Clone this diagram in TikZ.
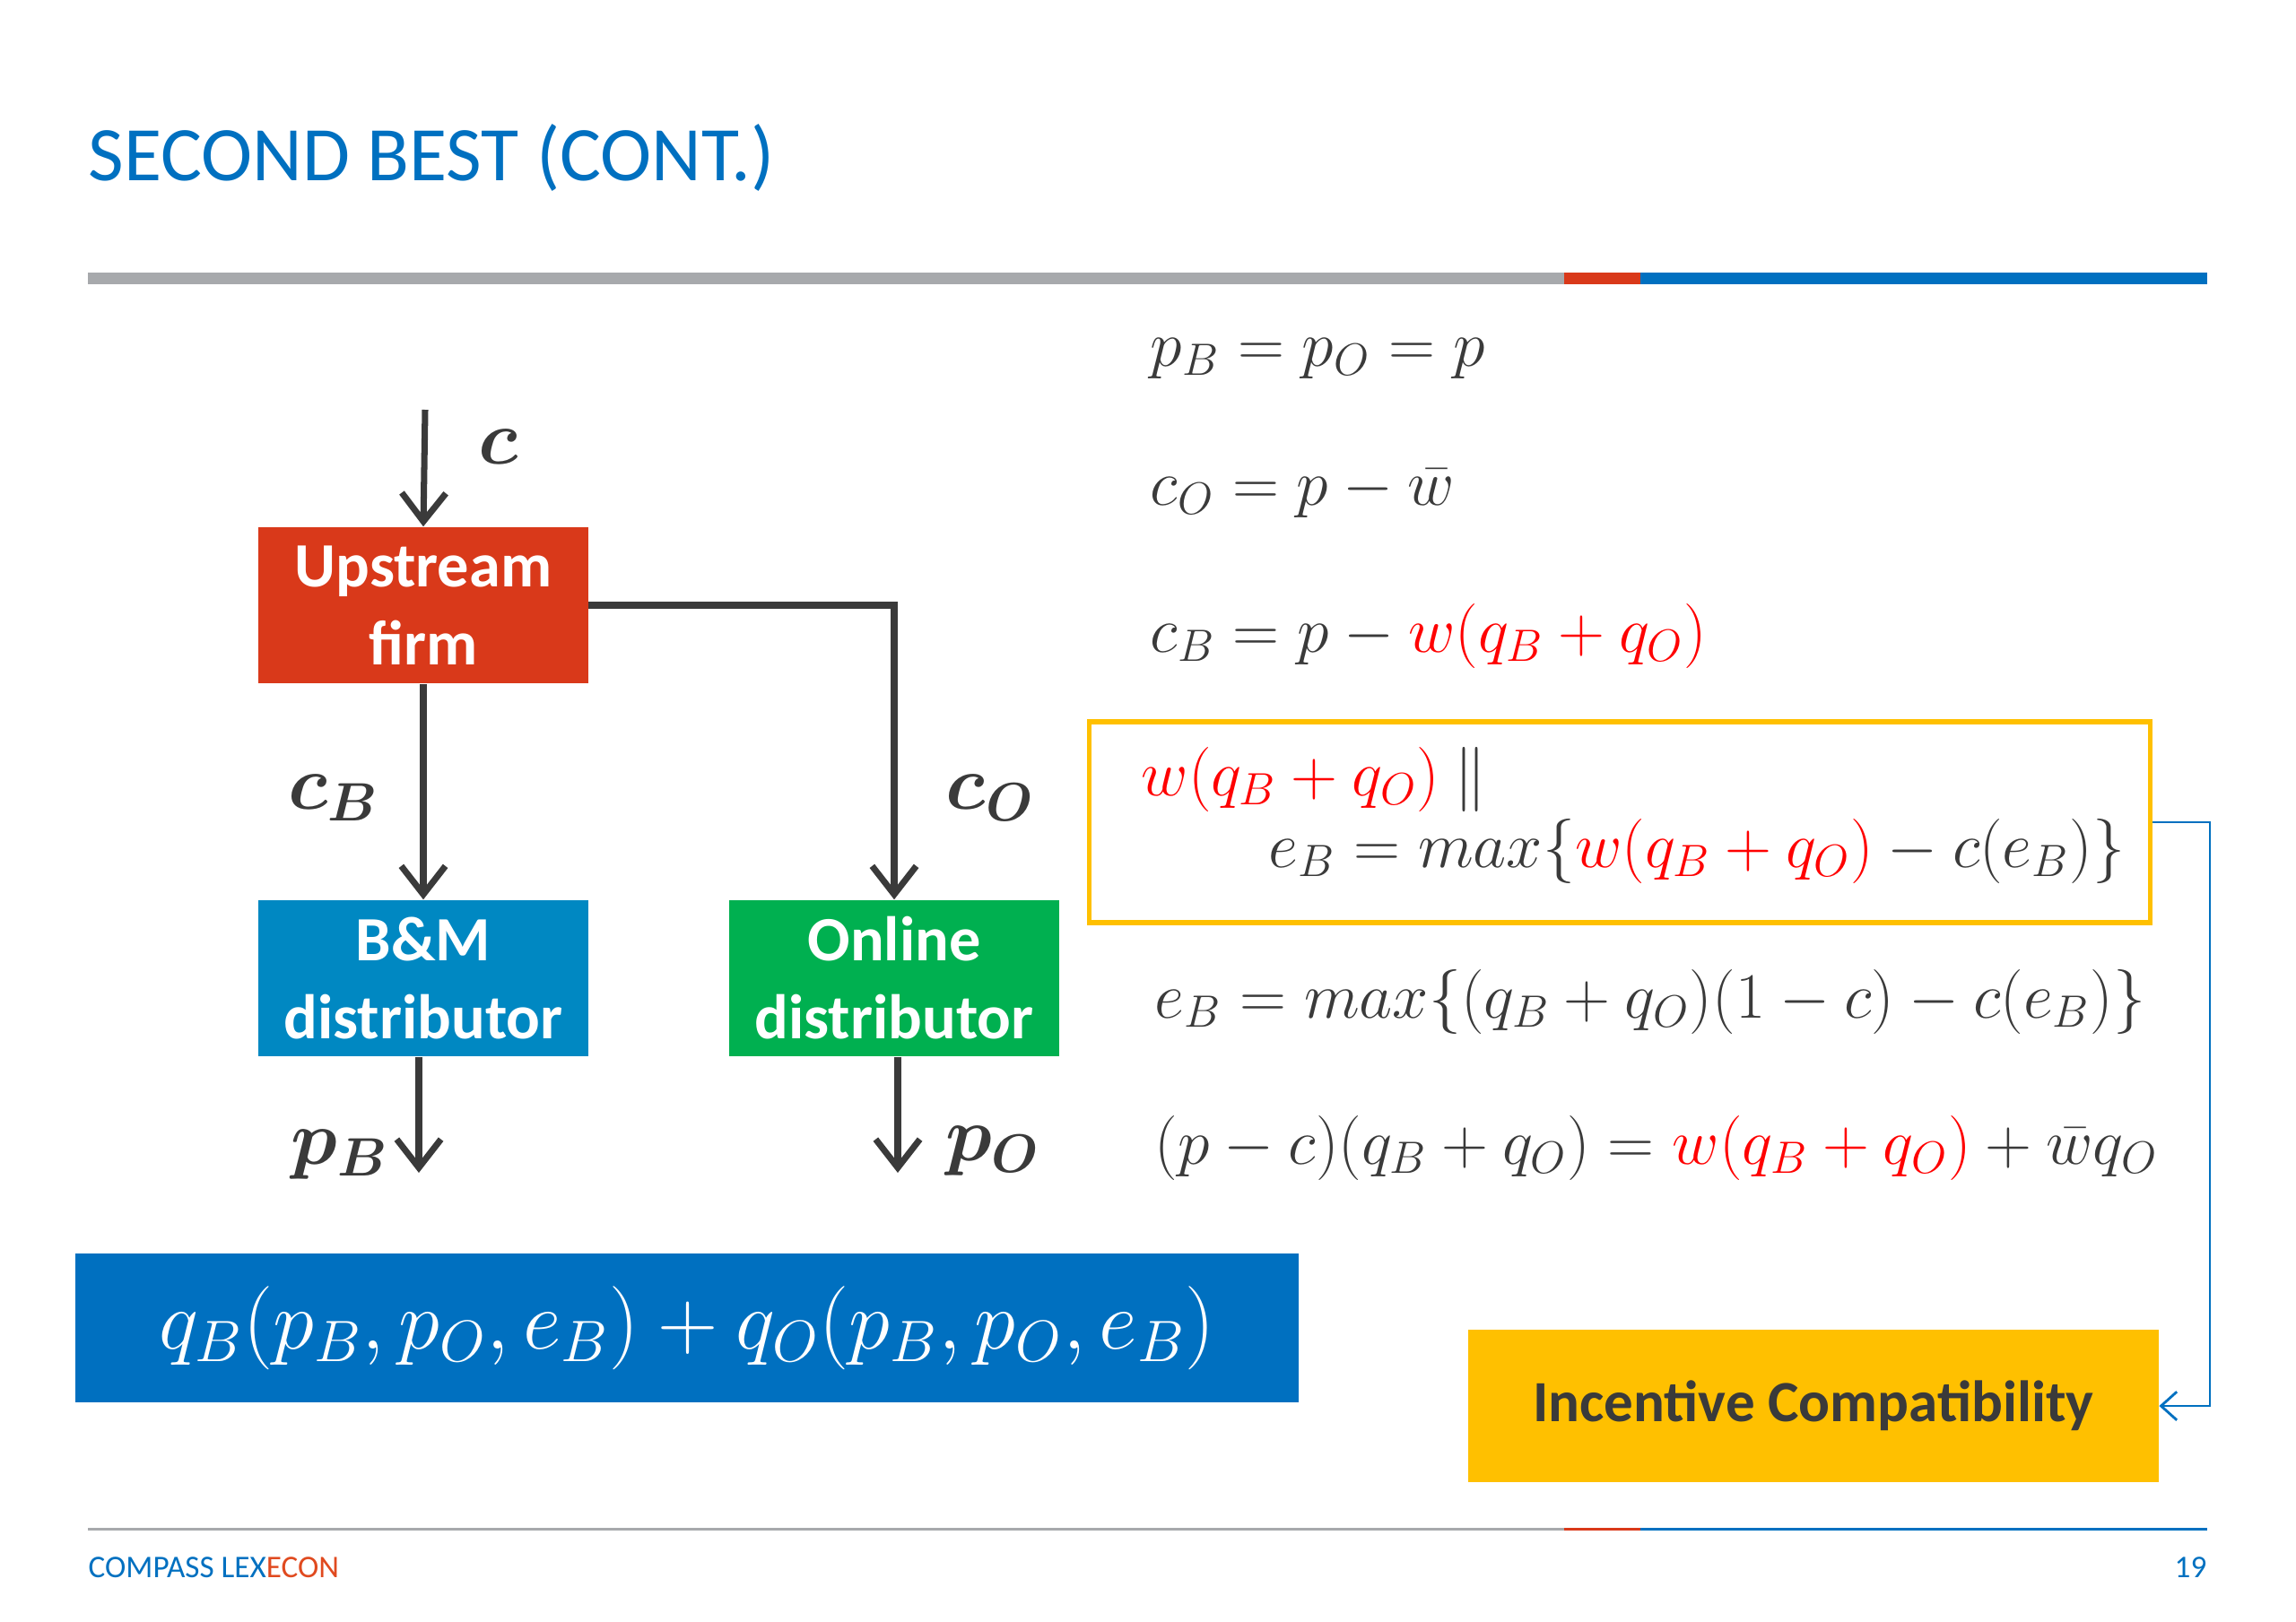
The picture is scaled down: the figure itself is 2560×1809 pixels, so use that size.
\RequirePackage{fix-cm}
\documentclass[tikz,border=0pt]{standalone}
\usepackage{fontspec}
\setmainfont{Carlito}
\usetikzlibrary{arrows.meta}
\definecolor{upred}{HTML}{D9391A}
\definecolor{bmblue}{HTML}{0088C2}
\definecolor{olgreen}{HTML}{00B050}
\definecolor{deepblue}{HTML}{0070C0}
\definecolor{icyellow}{HTML}{FFC000}
\definecolor{darktext}{HTML}{3A3A3A}
\definecolor{bargray}{HTML}{A7A9AC}
\definecolor{lexred}{HTML}{E04A1F}

\begin{document}
\begin{tikzpicture}[x=0.01cm, y=-0.01cm,
  firm/.style={minimum width=3.67cm, minimum height=1.74cm, inner sep=0pt, text=white, align=center, font=\fontsize{20}{24.7}\selectfont\bfseries},
  flow/.style={draw=darktext, line width=2pt, -{Straight Barb[length=9pt, width=14pt, line width=2pt]}},
  lbl/.style={text=darktext, inner sep=0pt, font=\fontsize{24.5}{28}\selectfont\boldmath},
  eq/.style={anchor=base west, inner sep=0pt, text=darktext, font=\fontsize{20.5}{24}\selectfont},
  icline/.style={draw=deepblue, line width=0.8pt, -{Straight Barb[length=5pt, width=9pt, line width=0.8pt]}}]
\useasboundingbox (0,0) rectangle (2560,1809);

\node[anchor=base west, inner sep=0pt, text=deepblue, font=\fontsize{24.5}{29}\selectfont] (title) at (98,201) {SECOND BEST (CONT.)};
\fill[bargray] (98,304) rectangle (1744,317);
\fill[upred] (1744,304) rectangle (1829,317);
\fill[deepblue] (1829,304) rectangle (2461,317);

\node[firm, fill=upred] (up) at (472,675) {Upstream\\firm};
\node[firm, fill=bmblue] (bm) at (472,1091) {B\&M\\distributor};
\node[firm, fill=olgreen] (ol) at (997,1091) {Online\\distributor};
\coordinate (cin) at (474,457);
\coordinate (pb) at (467,1308);
\coordinate (po) at (1001,1308);
\draw[flow] (cin) -- (up.north);
\draw[flow] (up.south) -- (bm.north);
\draw[flow] (up.east) -| (ol.north);
\draw[flow] (pb |- bm.south) -- (pb);
\draw[flow] (po |- ol.south) -- (po);
\node[lbl] (c) at (556,498) {$c$};
\node[lbl] (cb) at (372,890) {$c_B$};
\node[lbl] (co) at (1104,890) {$c_O$};
\node[lbl] (pbl) at (379,1288) {$p_B$};
\node[lbl] (pol) at (1107,1284) {$p_O$};

\node[eq] (e1) at (1282,408) {$p_B = p_O = p$};
\node[eq] (e2) at (1282,563) {$c_O = p - \bar{w}$};
\node[eq] (e3) at (1282,727) {$c_B = p - {\color{red}w(q_B + q_O)}$};
\node[draw=icyellow, line width=1.5pt, minimum width=11.82cm, minimum height=2.24cm, inner sep=0pt] (box) at (1806,917) {};
\node[eq] (e4) at (1272,887) {${\color{red}w(q_B + q_O)}\ \|$};
\node[eq] (e5) at (1414,967) {$e_B = max\{{\color{red}w(q_B + q_O)} - c(e_B)\}$};
\node[eq] (e6) at (1287,1135) {$e_B = max\{(q_B + q_O)(1 - c) - c(e_B)\}$};
\node[eq] (e7) at (1287,1298) {$(p - c)(q_B + q_O) = {\color{red}w(q_B + q_O)} + \bar{w}q_O$};

\node[fill=deepblue, minimum width=13.63cm, minimum height=1.66cm, inner sep=0pt, text=white, font=\fontsize{26.5}{31}\selectfont] (sum) at (766,1481) {$q_B(p_B, p_O, e_B) + q_O(p_B, p_O, e_B)$};
\node[fill=icyellow, minimum width=7.69cm, minimum height=1.70cm, inner sep=0pt, text=darktext, font=\fontsize{18.5}{22}\selectfont\bfseries] (ic) at (2022,1568) {Incentive Compatibility};
\draw[icline] (box.east) -- ++(64,0) |- (ic.east);

\fill[bargray] (98,1704) rectangle (1744,1707);
\fill[upred] (1744,1704) rectangle (1829,1707);
\fill[deepblue] (1829,1704) rectangle (2461,1707);
\node[anchor=base west, inner sep=0pt, font=\fontsize{10}{12}\selectfont] (lex) at (98,1759) {\textcolor{deepblue}{COMPASS LEX}\textcolor{lexred}{ECON}};
\node[anchor=base east, inner sep=0pt, text=deepblue, font=\fontsize{10}{12}\selectfont] (pg) at (2461,1759) {19};
\end{tikzpicture}
\end{document}
